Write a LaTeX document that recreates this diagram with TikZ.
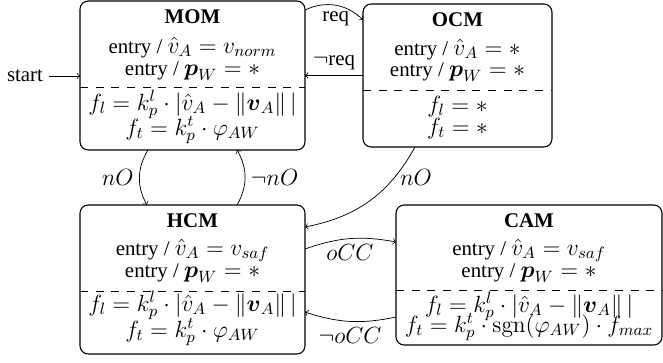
\RequirePackage{fix-cm}
\documentclass[tikz,border=0pt]{standalone}
\usepackage{amsmath,amssymb}
\usepackage[no-math]{fontspec}
\setmainfont{Liberation Serif}[Scale=0.89]
\usetikzlibrary{calc}
\begin{document}
\begin{tikzpicture}[x=0.55pt,y=-0.55pt,
  font=\fontsize{12.9}{15}\selectfont,
  stbox/.style 2 args={draw, line width=0.6pt, rounded corners=4.5pt, minimum width=#1*0.55pt, minimum height=#2*0.55pt, inner sep=0pt, outer sep=0pt},
  ln/.style={anchor=base, inner sep=0pt},
  sepline/.style={dash pattern=on 4.4pt off 4.2pt},
  tr/.style={->}]
\useasboundingbox (0,0) rectangle (663,362);
% boxes
\node[stbox={225}{149}] (mom) at (192.5,75.5) {};
\node[stbox={189}{143}] (ocm) at (457.5,75.5) {};
\node[stbox={225}{149}] (hcm) at (192.5,279.5) {};
\node[stbox={266}{140}] (cam) at (529,275) {};
% separators
\draw[sepline] (mom.west |- 0,87) -- (mom.east |- 0,87);
\draw[sepline] (ocm.west |- 0,90) -- (ocm.east |- 0,90);
\draw[sepline] (hcm.west |- 0,291) -- (hcm.east |- 0,291);
\draw[sepline] (cam.west |- 0,290) -- (cam.east |- 0,290);
% MOM text
\node[ln] (momT) at (192.5,23) {\textbf{MOM}};
\node[ln] (momE1) at (192.5,53) {entry / $\hat{v}_A = v_{norm}$};
\node[ln] (momE2) at (192.5,75) {entry / $\boldsymbol{p}_W = *$};
\node[ln] (momF1) at (192.5,110) {$f_l = k_p^l \cdot |\hat{v}_A - \|\boldsymbol{v}_A\|\,|$};
\node[ln] (momF2) at (192.5,135) {$f_t = k_p^t \cdot \varphi_{AW}$};
% OCM text
\node[ln] (ocmT) at (457.5,26) {\textbf{OCM}};
\node[ln] (ocmE1) at (457.5,55) {entry / $\hat{v}_A = *$};
\node[ln] (ocmE2) at (457.5,76) {entry / $\boldsymbol{p}_W = *$};
\node[ln] (ocmF1) at (457.5,112) {$f_l = *$};
\node[ln] (ocmF2) at (457.5,134) {$f_t = *$};
% HCM text
\node[ln] (hcmT) at (192.5,227) {\textbf{HCM}};
\node[ln] (hcmE1) at (192.5,255) {entry / $\hat{v}_A = v_{saf}$};
\node[ln] (hcmE2) at (192.5,277) {entry / $\boldsymbol{p}_W = *$};
\node[ln] (hcmF1) at (192.5,311) {$f_l = k_p^l \cdot |\hat{v}_A - \|\boldsymbol{v}_A\|\,|$};
\node[ln] (hcmF2) at (192.5,337) {$f_t = k_p^t \cdot \varphi_{AW}$};
% CAM text
\node[ln] (camT) at (529,227) {\textbf{CAM}};
\node[ln] (camE1) at (529,255) {entry / $\hat{v}_A = v_{saf}$};
\node[ln] (camE2) at (529,277) {entry / $\boldsymbol{p}_W = *$};
\node[ln] (camF1) at (529,312) {$f_l = k_p^l \cdot |\hat{v}_A - \|\boldsymbol{v}_A\|\,|$};
\node[ln] (camF2) at (529,332) {$f_t = k_p^t \cdot \operatorname{sgn}(\varphi_{AW}) \cdot f_{max}$};
% start
\node (start) at (25,76) {start};
\draw[tr] (start.east) -- (start.east -| mom.west);
% transitions
\draw[tr] ($(mom.north east)+(0,9)$) to[bend left=35] node[below] {req} ($(ocm.north west)+(0,16)$);
\draw[tr] (ocm.west) -- (mom.east |- ocm.west) node[midway, above] {$\neg$req};
\draw[tr] ($(mom.south west)+(68,0)$) to[bend right=30] node[left] {$nO$} ($(hcm.north west)+(67,0)$);
\draw[tr] ($(hcm.north west)+(157,0)$) to[bend right=30] node[right] {$\neg nO$} ($(mom.south west)+(157,0)$);
\draw[tr] ($(ocm.south west)+(52,0)$) to[bend left=25] node[pos=0.25, right] {$nO$} ($(hcm.north east)+(0,22)$);
\draw[tr] ($(hcm.north east)+(0,44)$) to[bend left=15] node[below] {$oCC$} ($(cam.north west)+(0,37)$);
\draw[tr] ($(cam.north west)+(0,112)$) to[bend left=15] node[below] {$\neg oCC$} ($(hcm.north east)+(0,107)$);
\end{tikzpicture}
\end{document}
